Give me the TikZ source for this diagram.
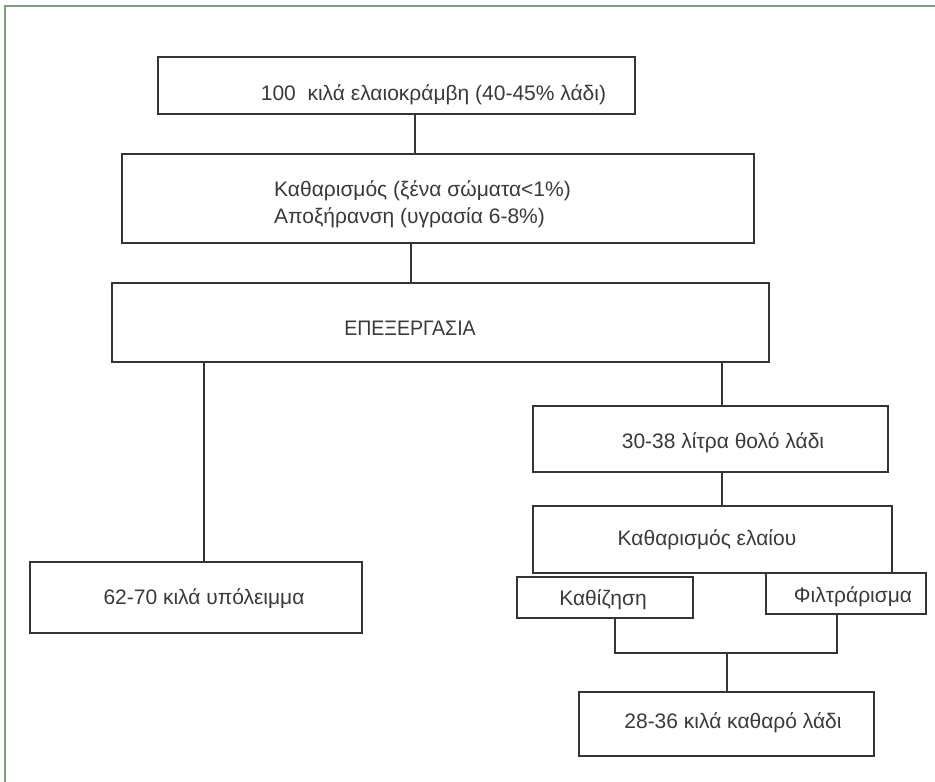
\documentclass[tikz,border=0pt]{standalone}
\usepackage{fontspec}
\setmainfont{Liberation Sans}
\definecolor{boxc}{HTML}{353535}
\definecolor{txtc}{HTML}{3A3A3A}
\definecolor{framec}{RGB}{125,158,125}
\begin{document}
\begin{tikzpicture}[x=1pt,y=-1pt,
  box/.style={draw=boxc, line width=1.8pt, fill=white, inner sep=0pt},
  txt/.style={text=txtc, inner sep=0pt, anchor=base, font=\fontsize{21}{25}\selectfont},
  link/.style={draw=boxc, line width=1.8pt},
]
\useasboundingbox (0,0) rectangle (935,782);
\fill[white] (0,0) rectangle (935,782);
\draw[framec, line width=1.6pt] (5,782) -- (5,6) -- (935,6);

% boxes
\node[box, minimum width=477pt, minimum height=57pt] (b1) at (396.5,85.5) {};
\node[box, minimum width=632pt, minimum height=89pt] (b2) at (438,198.5) {};
\node[box, minimum width=657pt, minimum height=79pt] (b3) at (440.5,322.5) {};
\node[box, minimum width=332pt, minimum height=71pt] (b62) at (196,597.5) {};
\node[box, minimum width=355pt, minimum height=66pt] (b30) at (710.5,439) {};
\node[box, minimum width=359pt, minimum height=67pt] (bKe) at (712.5,539.5) {};
\node[box, minimum width=176pt, minimum height=41pt] (bKz) at (605,597.5) {};
\node[box, minimum width=160pt, minimum height=41pt] (bFi) at (846,593.5) {};
\node[box, minimum width=295pt, minimum height=64pt] (b28) at (726.5,724) {};

% texts
\node[txt] (t1) at (433.5,100) {100\ \ κιλά ελαιοκράμβη (40-45\% λάδι)};
\node[txt, anchor=base west] (t2a) at (274,196.5) {Καθαρισμός (ξένα σώματα<1\%)};
\node[txt, anchor=base west] (t2b) at (274,223.5) {Αποξήρανση (υγρασία 6-8\%)};
\node[txt] (t3) at (410,335) {\scalebox{0.93}[1]{ΕΠΕΞΕΡΓΑΣΙΑ}};
\node[txt] (t62) at (204,604.5) {62-70 κιλά υπόλειμμα};
\node[txt] (t30) at (723,448) {30-38 λίτρα θολό λάδι};
\node[txt] (tKe) at (707,545) {Καθαρισμός ελαίου};
\node[txt] (tKz) at (603,605) {Καθίζηση};
\node[txt] (tFi) at (853,602) {Φιλτράρισμα};
\node[txt] (t28) at (733,728) {28-36 κιλά καθαρό λάδι};

% connector positions
\coordinate (xa) at (415,0);
\coordinate (xb) at (411,0);
\coordinate (xc) at (204,0);
\coordinate (xd) at (722,0);
\coordinate (jl) at (615,653);
\coordinate (jr) at (837,653);
\coordinate (jm) at (727,653);

\draw[link] (b1.south -| xa) -- (b2.north -| xa);
\draw[link] (b2.south -| xb) -- (b3.north -| xb);
\draw[link] (b3.south -| xc) -- (b62.north -| xc);
\draw[link] (b3.south -| xd) -- (b30.north -| xd);
\draw[link] (b30.south -| xd) -- (bKe.north -| xd);
\draw[link] (bKz.south -| jl) -- (jl) -- (jr) -- (bFi.south -| jr);
\draw[link] (jm) -- (b28.north -| jm);
\end{tikzpicture}
\end{document}
